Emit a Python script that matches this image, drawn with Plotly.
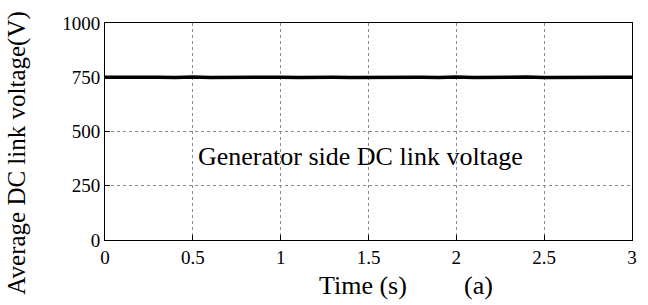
import plotly.graph_objects as go

# Time samples (s) and average DC link voltage (V)
time_s = [0.0, 0.1, 0.2, 0.3, 0.4, 0.5, 0.6, 0.7, 0.8, 0.9, 1.0,
          1.1, 1.2, 1.3, 1.4, 1.5, 1.6, 1.7, 1.8, 1.9, 2.0,
          2.1, 2.2, 2.3, 2.4, 2.5, 2.6, 2.7, 2.8, 2.9, 3.0]
voltage_v = [750, 751, 749, 750, 749, 751, 749, 750, 751, 749, 750,
             749, 751, 750, 749, 750, 749, 751, 750, 749, 751,
             749, 750, 750, 751, 749, 750, 749, 751, 750, 750]

x_ticks = [0, 0.5, 1, 1.5, 2, 2.5, 3]
x_tick_labels = ["0", "0.5", "1", "1.5", "2", "2.5", "3"]
y_ticks = [0, 250, 500, 750, 1000]
y_tick_labels = ["0", "250", "500", "750", "1000"]

FONT = "Liberation Serif, Times New Roman, serif"

W, H = 648, 305
L, R, T, B = 104.5, 15.5, 23, 65

def px(xp, yp):
    return (xp - L) / (W - L - R), (H - B - yp) / (H - T - B)

fig = go.Figure()
fig.add_trace(go.Scatter(x=time_s, y=voltage_v, mode="lines",
                         line=dict(color="black", width=3.5), showlegend=False))

axis_common = dict(showline=True, linecolor="black", linewidth=1, mirror=True,
                   ticks="inside", ticklen=5, tickcolor="black",
                   showgrid=True, gridcolor="#8a8a8a", griddash="dot", gridwidth=1,
                   zeroline=False, tickfont=dict(family=FONT, size=19, color="black"))

fig.update_xaxes(range=[0, 3], tickvals=x_ticks, ticktext=x_tick_labels, **axis_common)
fig.update_yaxes(range=[0, 1000], tickvals=y_ticks, ticktext=y_tick_labels, **axis_common)

def add_text(text, xp, yp, size, angle=0):
    x, y = px(xp, yp)
    fig.add_annotation(text=text, x=x, y=y, xref="paper", yref="paper",
                       xanchor="center", yanchor="middle", showarrow=False,
                       textangle=angle, font=dict(family=FONT, size=size, color="black"))

add_text("Generator side DC link voltage", 360, 156, 26)
add_text("Time (s)", 363, 285, 26)
add_text("(a)", 479, 285, 26)
add_text("Average DC link voltage(V)", 16, 153, 25, angle=-90)

fig.update_layout(width=W, height=H, margin=dict(l=L, r=R, t=T, b=B),
                  font=dict(family=FONT, color="black"),
                  plot_bgcolor="white", paper_bgcolor="white")

fig.write_html("out.html", config={"displayModeBar": False},
               post_script="document.body.style.margin='0';")
